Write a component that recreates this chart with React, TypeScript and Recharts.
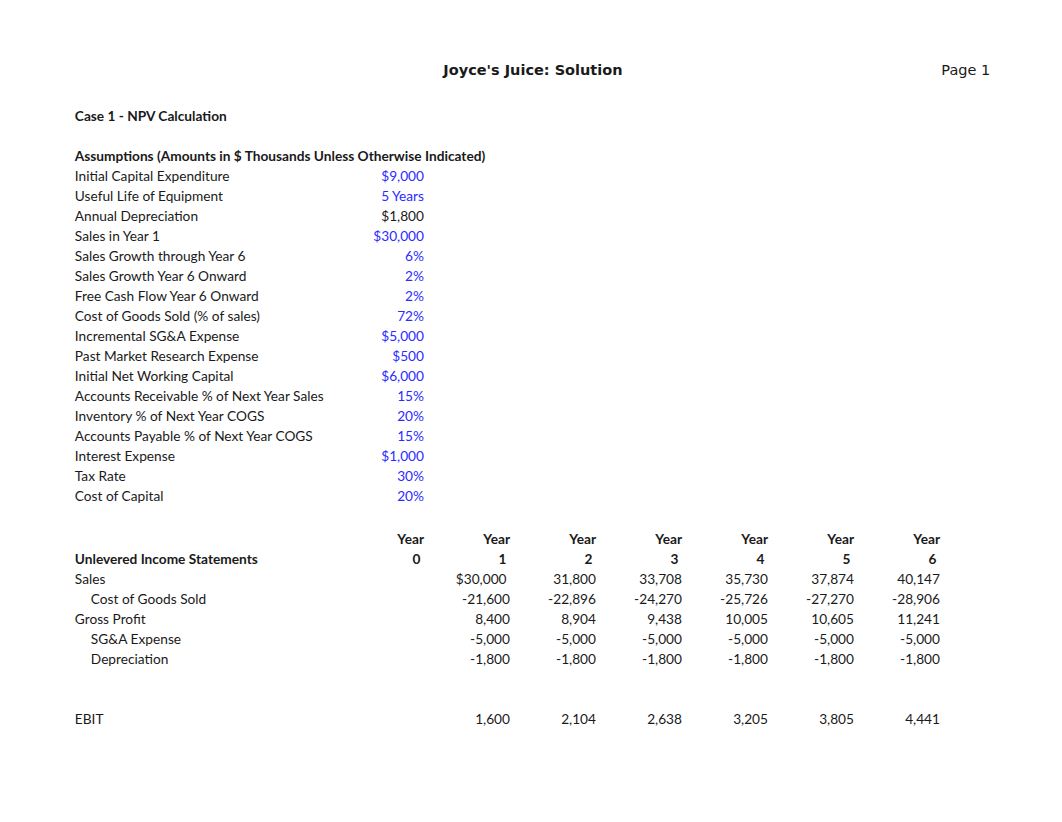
import { ScatterChart, Scatter, XAxis, YAxis } from "recharts";

const title = "Joyce's Juice: Solution";
const pageLabel = "Page 1";
const caseTitle = "Case 1 - NPV Calculation";
const assumptionsTitle =
  "Assumptions (Amounts in $ Thousands Unless Otherwise Indicated)";

const assumptionLabels = [
  "Initial Capital Expenditure",
  "Useful Life of Equipment",
  "Annual Depreciation",
  "Sales in Year 1",
  "Sales Growth through Year 6",
  "Sales Growth Year 6 Onward",
  "Free Cash Flow Year 6 Onward",
  "Cost of Goods Sold (% of sales)",
  "Incremental SG&A Expense",
  "Past Market Research Expense",
  "Initial Net Working Capital",
  "Accounts Receivable % of Next Year Sales",
  "Inventory % of Next Year COGS",
  "Accounts Payable % of Next Year COGS",
  "Interest Expense",
  "Tax Rate",
  "Cost of Capital",
];
const assumptionValues = [
  "$9,000", "5 Years", "$1,800", "$30,000", "6%", "2%", "2%", "72%",
  "$5,000", "$500", "$6,000", "15%", "20%", "15%", "$1,000", "30%", "20%",
];
// inputs are blue, calculated cells black
const assumptionIsInput = [
  true, true, false, true, true, true, true, true,
  true, true, true, true, true, true, true, true, true,
];

const tableTitle = "Unlevered Income Statements";
const years = [0, 1, 2, 3, 4, 5, 6];
const sales = [30000, 31800, 33708, 35730, 37874, 40147];
const cogs = [-21600, -22896, -24270, -25726, -27270, -28906];
const grossProfit = [8400, 8904, 9438, 10005, 10605, 11241];
const sgaExpense = [-5000, -5000, -5000, -5000, -5000, -5000];
const depreciation = [-1800, -1800, -1800, -1800, -1800, -1800];
const ebit = [1600, 2104, 2638, 3205, 3805, 4441];

// layout (column / row units mapped by the hidden axes)
const W = 1062;
const H = 822;
const LABEL_COL = -4.06;
const TABLE_ROW = 21.15;
const BODY_FONT = "Lato, 'Open Sans', sans-serif";
const HEAD_FONT = "'DejaVu Sans', sans-serif";
const BLUE = "#2b2bff";
const INK = "#1a1a1a";

type Cell = {
  c: number;
  r: number;
  text: string;
  anchor: "start" | "middle" | "end";
  bold?: boolean;
  color?: string;
  indent?: boolean;
  head?: boolean;
};

const fmt = (v: number) => v.toLocaleString("en-US");

const cells: Cell[] = [];
cells.push({ c: 1.267, r: -2.3, text: title, anchor: "middle", bold: true, head: true });
cells.push({ c: 6.3, r: -2.3, text: pageLabel, anchor: "middle", head: true });
cells.push({ c: LABEL_COL, r: 0, text: caseTitle, anchor: "start", bold: true });
cells.push({ c: LABEL_COL, r: 2, text: assumptionsTitle, anchor: "start", bold: true });
assumptionLabels.forEach((label, i) => {
  cells.push({ c: LABEL_COL, r: 3 + i, text: label, anchor: "start" });
  cells.push({
    c: 0,
    r: 3 + i,
    text: assumptionValues[i],
    anchor: "end",
    color: assumptionIsInput[i] ? BLUE : INK,
  });
});

years.forEach((y) => {
  cells.push({ c: y, r: TABLE_ROW, text: "Year", anchor: "end", bold: true });
  cells.push({ c: y - 0.04, r: TABLE_ROW + 1, text: String(y), anchor: "end", bold: true });
});
cells.push({ c: LABEL_COL, r: TABLE_ROW + 1, text: tableTitle, anchor: "start", bold: true });

const tableRows: { label: string; values: number[]; row: number; indent?: boolean }[] = [
  { label: "Sales", values: sales, row: 2 },
  { label: "Cost of Goods Sold", values: cogs, row: 3, indent: true },
  { label: "Gross Profit", values: grossProfit, row: 4 },
  { label: "SG&A Expense", values: sgaExpense, row: 5, indent: true },
  { label: "Depreciation", values: depreciation, row: 6, indent: true },
  { label: "EBIT", values: ebit, row: 9 },
];
tableRows.forEach((tr) => {
  cells.push({ c: LABEL_COL, r: TABLE_ROW + tr.row, text: tr.label, anchor: "start", indent: tr.indent });
  tr.values.forEach((v, i) => {
    const first = tr.label === "Sales" && i === 0;
    cells.push({
      c: i + 1 - (first ? 0.04 : 0),
      r: TABLE_ROW + tr.row,
      text: (first ? "$" : "") + fmt(v),
      anchor: "end",
    });
  });
});

const CellText = (props: any) => {
  const { cx, cy, payload } = props;
  const p = payload as Cell;
  return (
    <text
      x={cx + (p.indent ? 16 : 0)}
      y={cy}
      dy="0.35em"
      textAnchor={p.anchor}
      fontFamily={p.head ? HEAD_FONT : BODY_FONT}
      fontSize={p.head ? 14.5 : 13.7}
      fontWeight={p.bold ? 700 : 400}
      fill={p.color ?? INK}
    >
      {p.text}
    </text>
  );
};

export default function App() {
  return (
    <div style={{ position: "absolute", left: 0, top: 0, background: "#fff" }}>
      <ScatterChart width={W} height={H} margin={{ top: 0, right: 0, bottom: 0, left: 0 }}>
        <XAxis
          type="number"
          dataKey="c"
          domain={[-424 / 86, (W - 424) / 86]}
          allowDataOverflow
          hide
        />
        <YAxis
          type="number"
          dataKey="r"
          domain={[-116 / 20, (H - 116) / 20]}
          reversed
          allowDataOverflow
          hide
        />
        <Scatter data={cells} shape={CellText} isAnimationActive={false} />
      </ScatterChart>
    </div>
  );
}
